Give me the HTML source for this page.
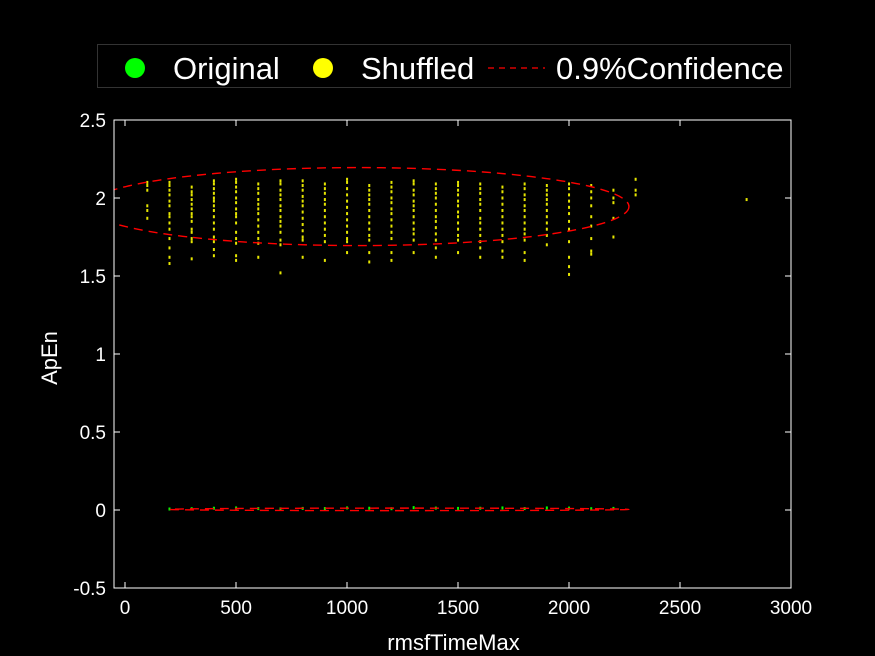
<!DOCTYPE html>
<html><head><meta charset="utf-8"><style>
html,body{margin:0;padding:0;background:#000;}
svg{display:block;font-family:"Liberation Sans",sans-serif;}
</style></head><body>
<svg id="chart" width="875" height="656" viewBox="0 0 875 656">
<rect x="0" y="0" width="875" height="656" fill="#000"/>
<g id="plot"></g>
<g id="axes" shape-rendering="crispEdges"></g>
<g>
<rect x="97.5" y="44.5" width="693" height="43" fill="#000" stroke="#333" stroke-width="1"/>
<circle cx="135" cy="68" r="10" fill="#00ff00"/>
<text x="173" y="79" font-size="31" fill="#fff">Original</text>
<circle cx="323" cy="68" r="10" fill="#ffff00"/>
<text x="361" y="79" font-size="31" fill="#fff">Shuffled</text>
<line x1="488" y1="68" x2="545" y2="68" stroke="#ff0000" stroke-width="1.2" stroke-dasharray="6,5"/>
<text x="556" y="79" font-size="31" fill="#fff">0.9%Confidence</text>
</g>
</svg>
<script>
var xTicks=[0,500,1000,1500,2000,2500,3000];
var yTicks=[-0.5,0,0.5,1,1.5,2,2.5];
var shuffledX=[100,200,300,400,500,600,700,800,900,1000,1100,1200,1300,1400,1500,1600,1700,1800,1900,2000,2100,2200,2300,2800];
var shuffledY=[
[1.92,1.95,1.87,2.05,2.08,2.1],
[1.58,1.62,1.68,1.74,1.8,1.84,1.88,1.9,1.95,1.98,2.02,2.05,2.08,2.1],
[1.61,1.72,1.74,1.78,1.8,1.85,1.88,1.9,1.93,1.96,1.99,2.02,2.04,2.07],
[1.63,1.67,1.72,1.75,1.8,1.84,1.88,1.92,1.95,1.98,2.0,2.03,2.06,2.09,2.11],
[1.6,1.63,1.71,1.74,1.78,1.84,1.88,1.9,1.93,1.97,2.0,2.04,2.07,2.1,2.12],
[1.62,1.71,1.74,1.78,1.82,1.86,1.9,1.93,1.96,1.99,2.03,2.06,2.09],
[1.52,1.7,1.73,1.78,1.82,1.85,1.88,1.92,1.95,1.99,2.02,2.05,2.09,2.11],
[1.62,1.73,1.75,1.79,1.83,1.87,1.91,1.95,1.98,2.01,2.05,2.08,2.11],
[1.6,1.72,1.76,1.8,1.84,1.88,1.92,1.96,1.99,2.03,2.06,2.09],
[1.65,1.72,1.74,1.78,1.82,1.86,1.9,1.94,1.98,2.02,2.06,2.1,2.12],
[1.59,1.65,1.73,1.76,1.8,1.84,1.88,1.92,1.96,1.99,2.02,2.05,2.08],
[1.6,1.65,1.74,1.78,1.82,1.86,1.9,1.93,1.97,2.0,2.04,2.07,2.1],
[1.65,1.73,1.77,1.8,1.84,1.88,1.92,1.95,1.98,2.02,2.05,2.09,2.11],
[1.62,1.68,1.73,1.77,1.81,1.85,1.88,1.92,1.96,2.0,2.03,2.06,2.09],
[1.65,1.73,1.76,1.8,1.84,1.88,1.91,1.95,1.98,2.02,2.05,2.08,2.1],
[1.62,1.68,1.72,1.76,1.8,1.84,1.87,1.92,1.96,1.99,2.03,2.06,2.09],
[1.62,1.66,1.72,1.76,1.8,1.84,1.88,1.92,1.96,2.0,2.04,2.07],
[1.6,1.65,1.73,1.77,1.8,1.84,1.88,1.92,1.95,1.99,2.02,2.06,2.09],
[1.7,1.76,1.8,1.84,1.88,1.92,1.96,1.99,2.02,2.05,2.08],
[1.51,1.56,1.62,1.72,1.8,1.85,1.9,1.94,1.98,2.02,2.06,2.09],
[1.64,1.66,1.74,1.82,1.88,1.95,2.0,2.04,2.08],
[1.75,1.87,1.97,2.0,2.05],
[2.02,2.05,2.12],
[1.99]
];
var originalX=[200,300,400,500,600,700,800,900,1000,1100,1200,1300,1400,1500,1600,1700,1800,1900,2000,2100,2200];
var originalY=[0.003,0.005,0.008,0.01,0.006,0.004,0.007,0.006,0.01,0.008,0.005,0.012,0.009,0.007,0.008,0.01,0.006,0.01,0.009,0.005,0.007];
var ellipseShuffled=[1050,1.945,1220,0.25];
var ellipseOriginal=[1235,0.004,1035,0.008];

var X0=114,X1=791,Y0=120,Y1=588;
var XMIN=-50,XMAX=3000,YMIN=-0.5,YMAX=2.5;
function sx(v){return X0+(v-XMIN)/(XMAX-XMIN)*(X1-X0);}
function sy(v){return Y1-(v-YMIN)/(YMAX-YMIN)*(Y1-Y0);}
var NS='http://www.w3.org/2000/svg';
var plot=document.getElementById('plot'),axes=document.getElementById('axes');
function mk(tag,attrs,parent){var e=document.createElementNS(NS,tag);for(var k in attrs)e.setAttribute(k,attrs[k]);parent.appendChild(e);return e;}

var defs=mk('defs',{},plot);
var cp=mk('clipPath',{id:'clip'},defs);
mk('rect',{x:X0,y:Y0,width:X1-X0,height:Y1-Y0},cp);
var g=mk('g',{'clip-path':'url(#clip)'},plot);

for(var i=0;i<shuffledX.length;i++){
  for(var j=0;j<shuffledY[i].length;j++){
    var r=mk('rect',{x:sx(shuffledX[i])-1,y:sy(shuffledY[i][j])-1.5,width:2,height:3,fill:'#e6e600'},g);
    
    
  }
}
for(var i=0;i<originalX.length;i++){
  var r=mk('rect',{x:sx(originalX[i])-1,y:sy(originalY[i])-2,width:2,height:3,fill:'#00ff00'},g);
  
  
}
function ell(p,name){
  var e=mk('ellipse',{cx:sx(p[0]),cy:sy(p[1]),rx:Math.abs(sx(p[0]+p[2])-sx(p[0])),ry:Math.abs(sy(p[1]+p[3])-sy(p[1])),fill:'none',stroke:'#ff0000','stroke-width':1.4,'stroke-dasharray':'9,6'},g);
  
  
}
ell(ellipseShuffled,'shuffled-confidence-ellipse');
ell(ellipseOriginal,'original-confidence-ellipse');

var box=mk('rect',{x:X0,y:Y0,width:X1-X0,height:Y1-Y0,fill:'none',stroke:'#fff','stroke-width':1},axes);


for(var i=0;i<xTicks.length;i++){
  var x=sx(xTicks[i]);
  mk('line',{x1:x,y1:Y1,x2:x,y2:Y1-6,stroke:'#fff'},axes);
  mk('line',{x1:x,y1:Y0,x2:x,y2:Y0+6,stroke:'#fff'},axes);
  var t=mk('text',{x:x,y:Y1+26,'font-size':19,fill:'#fff','text-anchor':'middle'},axes);
  t.textContent=xTicks[i];
  
  
}
for(var i=0;i<yTicks.length;i++){
  var y=sy(yTicks[i]);
  mk('line',{x1:X0,y1:y,x2:X0+6,y2:y,stroke:'#fff'},axes);
  mk('line',{x1:X1,y1:y,x2:X1-6,y2:y,stroke:'#fff'},axes);
  var t=mk('text',{x:X0-8,y:y+7,'font-size':19,fill:'#fff','text-anchor':'end'},axes);
  t.textContent=yTicks[i];
  
  
}
var xt=mk('text',{x:(X0+X1)/2+1,y:650,'font-size':22,fill:'#fff','text-anchor':'middle'},axes);
xt.textContent='rmsfTimeMax';


var yt=mk('text',{x:0,y:0,'font-size':22,fill:'#fff','text-anchor':'middle',transform:'translate(57,358) rotate(-90)'},axes);
yt.textContent='ApEn';


</script>
</body></html>
